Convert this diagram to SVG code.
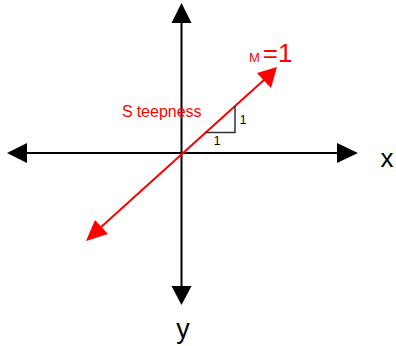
<svg xmlns="http://www.w3.org/2000/svg" width="396" height="346" viewBox="0 0 396 346">
<style>
.axis{stroke:#000;stroke-width:2;fill:none}
.head{fill:#000}
.red{stroke:#f00;stroke-width:2;fill:none}
.rhead{fill:#f00}
.lbl{font-family:"Liberation Sans",Arial,sans-serif;fill:#000}
.rl{font-family:"Liberation Sans",Arial,sans-serif;fill:#f00}
</style>
<rect width="396" height="346" fill="#fff"/>
<g id="connectors">
<line class="axis" x1="26" y1="153" x2="338" y2="153"/>
<polygon class="head" points="7,153 27,143 27,163"/>
<polygon class="head" points="358,153 337,143 337,163"/>
<line class="axis" x1="181.5" y1="22" x2="181.5" y2="288"/>
<polygon class="head" points="181.5,3 171.5,23 191.5,23"/>
<polygon class="head" points="181.5,305 171.5,286 191.5,286"/>
<line class="red" x1="100" y1="228" x2="265" y2="79"/>
<polygon class="rhead" points="277,67 257,73 271,88"/>
<polygon class="rhead" points="86,241 95,220 108,234"/>
<polyline points="205,132.5 235,132.5 235,106" fill="none" stroke="#333" stroke-width="1.5"/>
</g>
<g id="labels">
<text class="lbl" x="387" y="167" font-size="26" text-anchor="middle">x</text>
<text class="lbl" x="183" y="338" font-size="27" text-anchor="middle">y</text>
<text class="lbl" x="217" y="145" font-size="12" text-anchor="middle">1</text>
<text class="lbl" x="243" y="124" font-size="12" text-anchor="middle">1</text>
<text class="rl" x="122" y="117" font-size="16">S<tspan dx="4">teepness</tspan></text>
<text class="rl" x="249" y="62" font-size="13">M<tspan font-size="26" dx="3">=1</tspan></text>
</g>
</svg>
